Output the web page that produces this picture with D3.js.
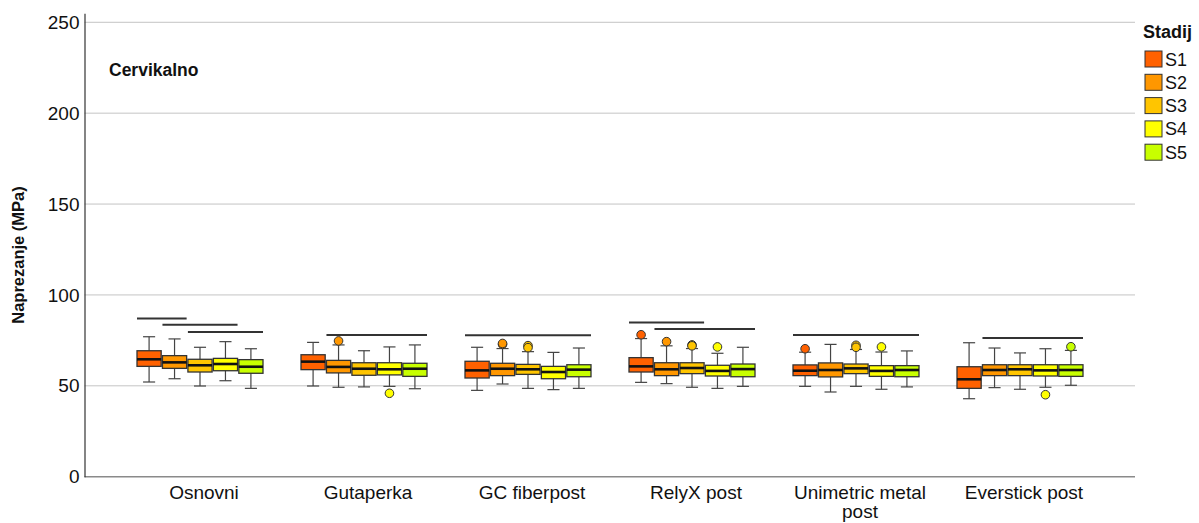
<!DOCTYPE html>
<html><head><meta charset="utf-8">
<script src="https://cdn.jsdelivr.net/npm/d3@7"></script>
<style>body{margin:0;background:#fff}svg{display:block;font-family:"Liberation Sans",Arial,sans-serif}</style>
</head><body><svg id="c" width="1199" height="523"></svg>
<script>
const groups = ["Osnovni","Gutaperka","GC fiberpost","RelyX post","Unimetric metal post","Everstick post"];
const groupLabels = [["Osnovni"],["Gutaperka"],["GC fiberpost"],["RelyX post"],["Unimetric metal","post"],["Everstick post"]];
const series = ["S1","S2","S3","S4","S5"];
const colors = ["#ff6100","#ff9700","#ffc500","#ffff00","#c8ff00"];
const yTicks = [0,50,100,150,200,250];
// [low whisker, Q1, median, Q3, high whisker] per group per series
const osnovni =   [[52.1,60.7,64.6,69.3,77.0],[53.9,59.6,62.9,66.6,75.8],[49.9,57.6,61.3,64.6,71.2],[52.8,58.3,62.0,65.1,74.3],[48.6,56.9,60.5,64.4,70.4]];
const gutaperka = [[49.9,58.9,63.3,67.1,73.9],[49.2,57.1,60.4,64.0,72.5],[49.4,55.8,59.4,62.7,69.3],[49.7,56.0,59.1,62.7,71.4],[48.4,55.2,59.4,62.4,72.5]];
const gcFiber =   [[47.5,54.3,58.5,63.5,71.2],[51.0,55.6,59.4,62.4,70.5],[48.6,56.3,59.1,61.8,68.8],[47.9,53.9,57.6,60.7,68.4],[48.6,55.0,58.9,61.6,70.8]];
const relyx =     [[51.9,57.6,60.7,65.5,76.0],[51.2,55.6,59.1,62.7,72.0],[49.2,56.7,59.8,62.7,70.5],[48.6,55.4,58.2,61.3,67.9],[49.7,55.0,59.2,62.0,71.2]];
const unimetric = [[49.7,55.6,58.3,61.5,68.5],[46.6,54.9,58.7,62.6,72.8],[49.7,56.7,59.6,62.0,70.0],[48.1,55.2,58.2,61.1,68.6],[49.4,55.0,58.7,61.1,69.2]];
const everstick = [[42.9,48.6,53.6,60.5,73.7],[49.0,55.6,58.7,61.6,70.8],[48.1,55.6,59.1,61.6,68.1],[49.2,55.4,58.5,61.6,70.4],[50.3,55.2,58.7,61.6,69.5]];
const boxData = [osnovni,gutaperka,gcFiber,relyx,unimetric,everstick];
// outliers: [group index, series index, value]
const outliers = [[1,1,74.7],[1,3,45.9],[2,1,72.8],[2,1,73.3],[2,2,72.1],[2,2,71.0],[3,0,78.1],[3,1,74.3],[3,2,72.5],[3,2,72.0],[3,3,71.4],[4,0,70.4],[4,2,72.3],[4,2,71.2],[4,3,71.4],[5,3,45.1],[5,4,71.5]];
// significance bars: [group index, from series, to series, value]
const sigLines = [[0,0,1,87.1],[0,1,3,83.6],[0,2,4,79.6],[1,1,4,78.0],[2,0,4,77.8],[3,0,2,84.9],[3,1,4,81.3],[4,0,4,78.0],[5,1,4,76.3]];

const svg = d3.select("#c");
const y = d3.scaleLinear().domain([0,255]).range([476.7,13.2]);
const x = d3.scaleBand().domain(groups).range([118,1102]).padding(0);
const xi = d3.scaleBand().domain(series).range([-63,63]).paddingInner(0.05);
const bw = xi.bandwidth();
const plotL = 84.5, plotR = 1135;

// gridlines
svg.append("g").selectAll("line").data(yTicks.filter(d=>d>0)).join("line")
  .attr("x1",plotL).attr("x2",plotR).attr("y1",d=>y(d)).attr("y2",d=>y(d))
  .attr("stroke","#c4c4c4").attr("stroke-width",1);
// x axis line
svg.append("line").attr("x1",plotL).attr("x2",plotR).attr("y1",y(0)).attr("y2",y(0)).attr("stroke","#8a8a8a").attr("stroke-width",1.5);
// y axis
const ya = svg.append("g").attr("transform",`translate(${plotL},0)`)
  .call(d3.axisLeft(y).tickValues(yTicks).tickSize(0).tickPadding(5));
ya.select(".domain").attr("stroke","#333").attr("stroke-width",1.2);
ya.selectAll("text").attr("font-size",19).attr("fill","#111").attr("font-family","Liberation Sans, Arial, sans-serif");

// boxes
groups.forEach((g,gi)=>{
  const gx = x(g) + x.bandwidth()/2;
  series.forEach((s,si)=>{
    const [lo,q1,med,q3,hi] = boxData[gi][si];
    const bx = gx + xi(s);
    const cx = bx + bw/2;
    const gg = svg.append("g");
    gg.append("line").attr("x1",cx).attr("x2",cx).attr("y1",y(hi)).attr("y2",y(lo)).attr("stroke","#444").attr("stroke-width",1.2);
    [lo,hi].forEach(v=>gg.append("line").attr("x1",cx-bw/4).attr("x2",cx+bw/4).attr("y1",y(v)).attr("y2",y(v)).attr("stroke","#444").attr("stroke-width",1.2));
    gg.append("rect").attr("x",bx).attr("y",y(q3)).attr("width",bw).attr("height",y(q1)-y(q3))
      .attr("fill",colors[si]).attr("stroke","#333").attr("stroke-width",1.3);
    gg.append("line").attr("x1",bx).attr("x2",bx+bw).attr("y1",y(med)).attr("y2",y(med)).attr("stroke","#111").attr("stroke-width",2.6);
  });
});
// outliers
svg.append("g").selectAll("circle").data(outliers).join("circle")
  .attr("cx",d=>x(groups[d[0]])+x.bandwidth()/2+xi(series[d[1]])+bw/2)
  .attr("cy",d=>y(d[2])).attr("r",4.3)
  .attr("fill",d=>colors[d[1]]).attr("stroke","#333").attr("stroke-width",1);
// significance lines
svg.append("g").selectAll("line").data(sigLines).join("line")
  .attr("x1",d=>x(groups[d[0]])+x.bandwidth()/2+xi(series[d[1]]))
  .attr("x2",d=>x(groups[d[0]])+x.bandwidth()/2+xi(series[d[2]])+bw)
  .attr("y1",d=>y(d[3])).attr("y2",d=>y(d[3]))
  .attr("stroke","#333").attr("stroke-width",2);

// x labels
groups.forEach((g,gi)=>{
  groupLabels[gi].forEach((l,li)=>svg.append("text").attr("text-anchor","middle").attr("font-size",19).attr("fill","#111")
    .attr("x",x(g)+x.bandwidth()/2+4).attr("y",499+li*19).text(l));
});
// y title
svg.append("text").attr("transform","translate(24,255) rotate(-90)").attr("text-anchor","middle")
  .attr("font-size",16.5).attr("font-weight","bold").attr("fill","#111").text("Naprezanje (MPa)");
// panel title
svg.append("text").attr("x",109).attr("y",76).attr("font-size",17.5).attr("font-weight","bold").attr("fill","#111").text("Cervikalno");
// legend
svg.append("text").attr("x",1143).attr("y",38).attr("font-size",18).attr("font-weight","bold").attr("fill","#111").text("Stadij");
const lg = svg.append("g").selectAll("g").data(series).join("g")
  .attr("transform",(d,i)=>`translate(1145,${51+i*23.3})`);
lg.append("rect").attr("width",17).attr("height",16).attr("fill",(d,i)=>colors[i]).attr("stroke","#333").attr("stroke-width",1);
lg.append("text").attr("x",20).attr("y",14.5).attr("font-size",18).attr("fill","#111").text(d=>d);
</script></body></html>
